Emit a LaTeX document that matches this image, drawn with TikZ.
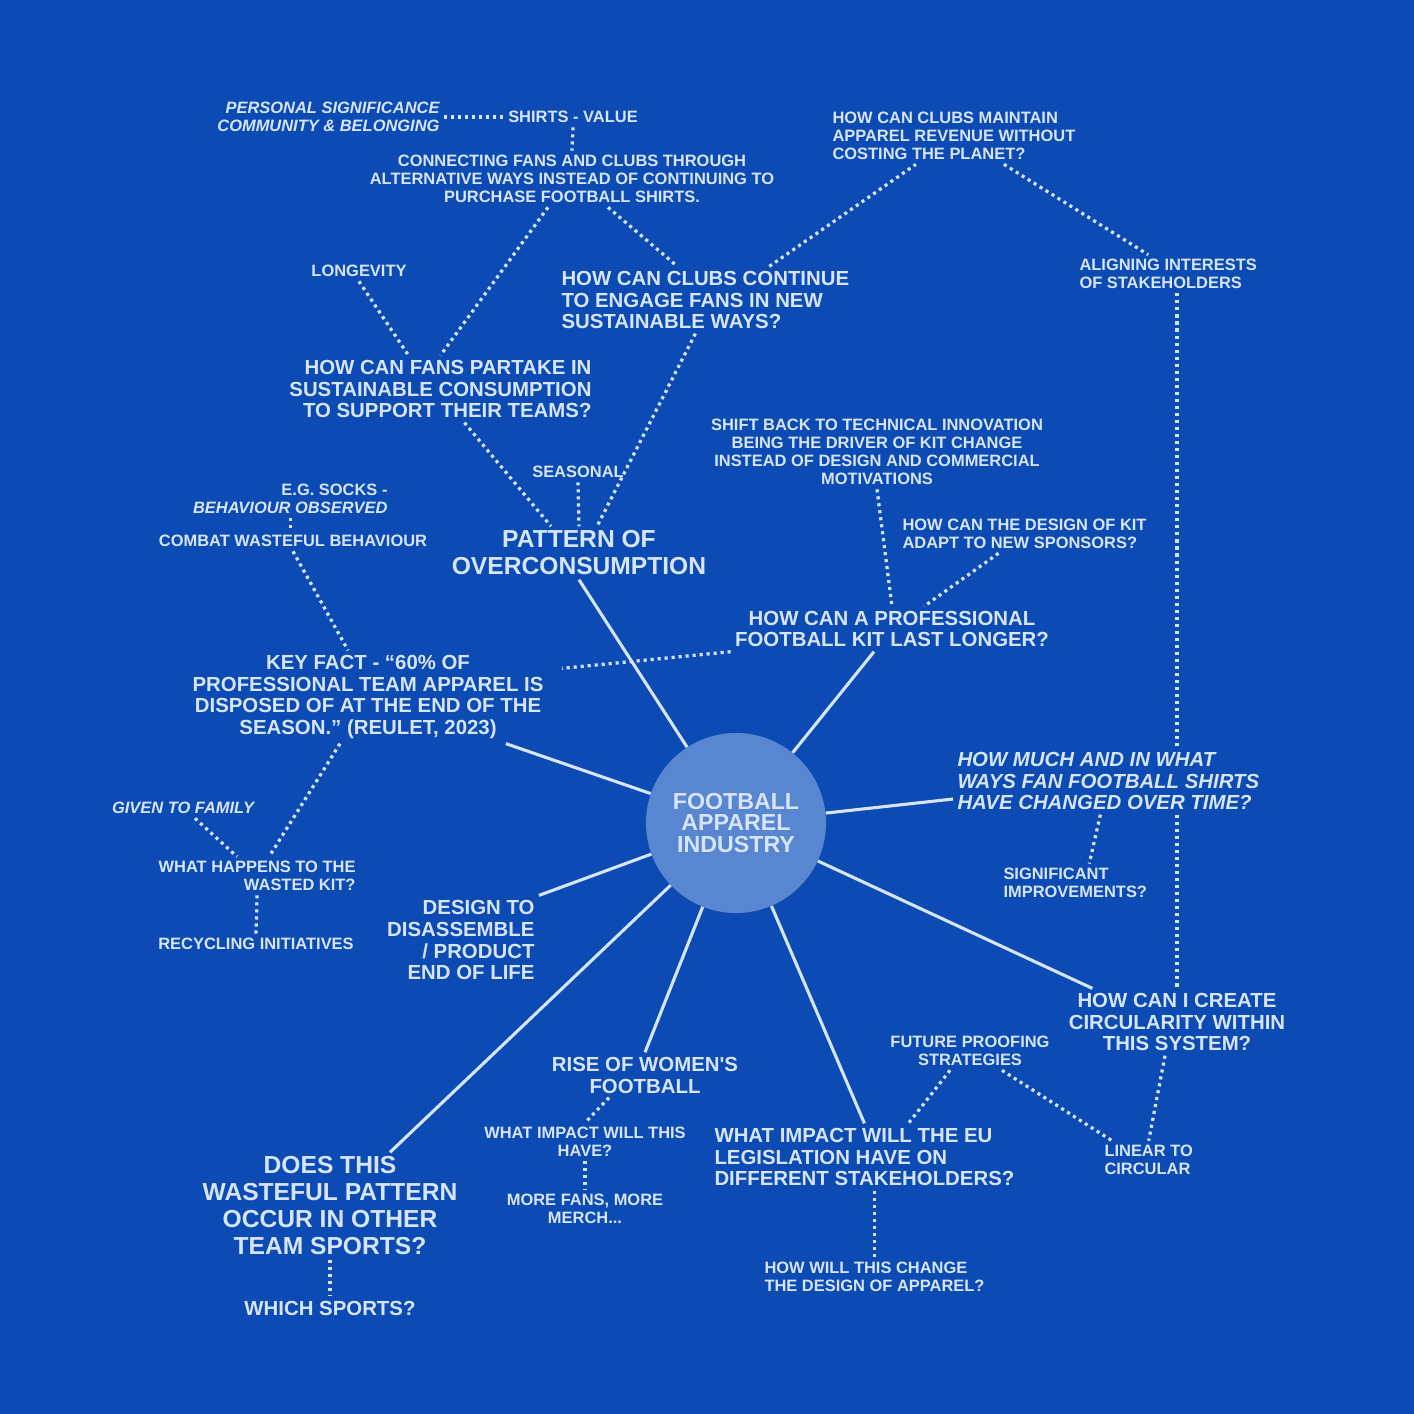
\documentclass[tikz,border=0pt]{standalone}
\usepackage{fontspec}
\usepackage{tikz}
\usetikzlibrary{positioning}
\newfontfamily\mapfont{Liberation Sans}
\definecolor{bgcol}{RGB}{12, 74, 180}
\definecolor{inkcol}{RGB}{214, 229, 250}
\definecolor{corecol}{RGB}{88, 134, 208}

\begin{document}
\begin{tikzpicture}[x=0.025cm, y=-0.025cm,
    lbl/.style={text=inkcol, inner sep=3pt, font=\mapfont\bfseries\fontsize{11.7}{12.8}\selectfont},
    qn/.style={text=inkcol, inner sep=3pt, font=\mapfont\bfseries\fontsize{14.5}{15.6}\selectfont},
    head/.style={text=inkcol, inner sep=3pt, font=\mapfont\bfseries\fontsize{17.5}{19.2}\selectfont},
    hub/.style={circle, fill=corecol, text=inkcol, minimum size=4.5cm, inner sep=0pt, align=center, font=\mapfont\bfseries\fontsize{16.5}{15}\selectfont},
    spoke/.style={-, inkcol, line width=2.2pt},
    dotlink/.style={-, inkcol, line width=2.3pt, dash pattern=on 2.2pt off 2.8pt}]

    \fill[bgcol] (0,0) rectangle (1414,1414);

    \node[hub] (core) at (736,823) {FOOTBALL\\APPAREL\\INDUSTRY};

    % top left
    \node[lbl, anchor=east, align=right, font=\mapfont\bfseries\itshape\fontsize{11.7}{12.8}\selectfont] (personal) at (444,117) {PERSONAL SIGNIFICANCE\\COMMUNITY \& BELONGING};
    \node[lbl] (shirts) at (573,117) {SHIRTS - VALUE};
    \node[lbl, align=center] (connect) at (572,179) {CONNECTING FANS AND CLUBS THROUGH\\ALTERNATIVE WAYS INSTEAD OF CONTINUING TO\\PURCHASE FOOTBALL SHIRTS.};
    \node[lbl] (longevity) at (359,271) {LONGEVITY};
    \node[qn, anchor=east, align=right] (partake) at (596,389) {HOW CAN FANS PARTAKE IN\\SUSTAINABLE CONSUMPTION\\TO SUPPORT THEIR TEAMS?};
    \node[qn, anchor=west, align=left] (clubs) at (557,300) {HOW CAN CLUBS CONTINUE\\TO ENGAGE FANS IN NEW\\SUSTAINABLE WAYS?};
    \node[lbl] (seasonal) at (578,472) {SEASONAL};
    \node[head, align=center] (pattern) at (579,553) {PATTERN OF\\OVERCONSUMPTION};

    % top right
    \node[lbl, anchor=west, align=left] (maintain) at (828,136) {HOW CAN CLUBS MAINTAIN\\APPAREL REVENUE WITHOUT\\COSTING THE PLANET?};
    \node[lbl, anchor=west, align=left] (aligning) at (1075,274) {ALIGNING INTERESTS\\OF STAKEHOLDERS};
    \node[lbl, align=center] (shift) at (877,452) {SHIFT BACK TO TECHNICAL INNOVATION\\BEING THE DRIVER OF KIT CHANGE\\INSTEAD OF DESIGN AND COMMERCIAL\\MOTIVATIONS};
    \node[lbl, anchor=west, align=left] (adapt) at (898,534) {HOW CAN THE DESIGN OF KIT\\ADAPT TO NEW SPONSORS?};
    \node[qn, align=center] (kit) at (892,629) {HOW CAN A PROFESSIONAL\\FOOTBALL KIT LAST LONGER?};

    % left
    \node[lbl, anchor=east, align=right] (socks) at (392,499) {E.G. SOCKS -\\\textit{BEHAVIOUR OBSERVED}};
    \node[lbl] (combat) at (293,541) {COMBAT WASTEFUL BEHAVIOUR};
    \node[qn, align=center] (keyfact) at (368,697) {KEY FACT - “60\% OF\\PROFESSIONAL TEAM APPAREL IS\\DISPOSED OF AT THE END OF THE\\SEASON.” (REULET, 2023)};
    \node[lbl, font=\mapfont\bfseries\itshape\fontsize{11.7}{12.8}\selectfont] (given) at (183,808) {GIVEN TO FAMILY};
    \node[lbl, anchor=east, align=right] (wasted) at (360,876) {WHAT HAPPENS TO THE\\WASTED KIT?};
    \node[lbl] (recycling) at (256,944) {RECYCLING INITIATIVES};
    \node[qn, anchor=east, align=right] (design) at (539,940) {DESIGN TO\\DISASSEMBLE\\/ PRODUCT\\END OF LIFE};

    % right
    \node[qn, anchor=west, align=left, font=\mapfont\bfseries\itshape\fontsize{14.5}{15.6}\selectfont] (howmuch) at (953,781) {HOW MUCH AND IN WHAT\\WAYS FAN FOOTBALL SHIRTS\\HAVE CHANGED OVER TIME?};
    \node[lbl, anchor=west, align=left] (significant) at (999,883) {SIGNIFICANT\\IMPROVEMENTS?};
    \node[qn, align=center] (circ) at (1177,1022) {HOW CAN I CREATE\\CIRCULARITY WITHIN\\THIS SYSTEM?};
    \node[lbl, align=center] (future) at (970,1051) {FUTURE PROOFING\\STRATEGIES};
    \node[lbl, anchor=west, align=left] (linear) at (1100,1160) {LINEAR TO\\CIRCULAR};

    % bottom
    \node[qn, anchor=west, align=left] (eu) at (710,1157) {WHAT IMPACT WILL THE EU\\LEGISLATION HAVE ON\\DIFFERENT STAKEHOLDERS?};
    \node[lbl, anchor=west, align=left] (howwill) at (760,1277) {HOW WILL THIS CHANGE\\THE DESIGN OF APPAREL?};
    \node[qn, align=center] (women) at (645,1075) {RISE OF WOMEN'S\\FOOTBALL};
    \node[lbl, align=center] (whatimpact) at (585,1142) {WHAT IMPACT WILL THIS\\HAVE?};
    \node[lbl, align=center] (morefans) at (585,1209) {MORE FANS, MORE\\MERCH...};
    \node[head, align=center] (does) at (330,1206) {DOES THIS\\WASTEFUL PATTERN\\OCCUR IN OTHER\\TEAM SPORTS?};
    \node[qn] (which) at (330,1308) {WHICH SPORTS?};

    % spokes
    \draw[spoke] (pattern.south) -- (core);
    \draw[spoke] ([xshift=-0.45cm]kit.south) -- (core);
    \draw[spoke] ([yshift=-0.45cm]howmuch.west) -- (core);
    \draw[spoke] ([xshift=0.7cm]circ.north west) -- (core);
    \draw[spoke] (eu.north) -- (core);
    \draw[spoke] (women.north) -- (core);
    \draw[spoke] ([xshift=1.5cm]does.north) -- (core);
    \draw[spoke] (design.north east) -- (core);
    \draw[spoke] ([xshift=-1.05cm]keyfact.south east) -- (core);

    % dotted links
    \draw[dotlink] (personal.east) -- (shirts.west);
    \draw[dotlink] (shirts.south) -- (connect.north);
    \draw[dotlink] ([xshift=-0.6cm]connect.south) -- (partake.north);
    \draw[dotlink] ([xshift=0.9cm]connect.south) -- ([xshift=-0.7cm]clubs.north);
    \draw[dotlink] (longevity.south) -- ([xshift=-0.8cm]partake.north);
    \draw[dotlink] ([xshift=1.6cm]clubs.north) -- ([xshift=-0.95cm]maintain.south);
    \draw[dotlink] ([xshift=1.25cm]maintain.south) -- ([xshift=-0.5cm]aligning.north);
    \draw[dotlink] (circ.north |- aligning.south) -- (circ.north |- howmuch.north);
    \draw[dotlink] (circ.north |- howmuch.south) -- (circ.north);
    \draw[dotlink] (seasonal.south) -- (pattern.north);
    \draw[dotlink] ([xshift=0.6cm]partake.south) -- ([xshift=-0.7cm]pattern.north);
    \draw[dotlink] ([xshift=-0.25cm]clubs.south) -- ([xshift=0.45cm]pattern.north);
    \draw[dotlink] (shift.south) -- (kit.north);
    \draw[dotlink] ([xshift=-0.65cm]adapt.south) -- ([xshift=0.8cm]kit.north);
    \draw[dotlink] (kit.south west) -- ([xshift=0.35cm, yshift=-0.45cm]keyfact.north east);
    \draw[dotlink] (socks.south) -- (socks.south |- combat.north);
    \draw[dotlink] (combat.south) -- ([xshift=-0.5cm]keyfact.north);
    \draw[dotlink] ([xshift=-0.7cm]keyfact.south) -- ([xshift=0.3cm]wasted.north);
    \draw[dotlink] ([xshift=0.3cm]given.south) -- ([xshift=-0.5cm]wasted.north);
    \draw[dotlink] (wasted.south) -- (recycling.north);
    \draw[dotlink] ([xshift=-0.2cm]howmuch.south) -- ([xshift=0.35cm]significant.north);
    \draw[dotlink] ([xshift=-0.3cm]circ.south) -- (linear.north);
    \draw[dotlink] ([xshift=0.8cm]future.south) -- ([xshift=0.3cm]linear.north west);
    \draw[dotlink] ([xshift=-0.5cm]future.south) -- ([xshift=1.1cm]eu.north);
    \draw[dotlink] (howwill.north |- eu.south) -- (howwill.north);
    \draw[dotlink] ([xshift=-0.9cm]women.south) -- (whatimpact.north);
    \draw[dotlink] (whatimpact.south) -- (morefans.north);
    \draw[dotlink] (does.south) -- (which.north);
  \end{tikzpicture}
\end{document}
